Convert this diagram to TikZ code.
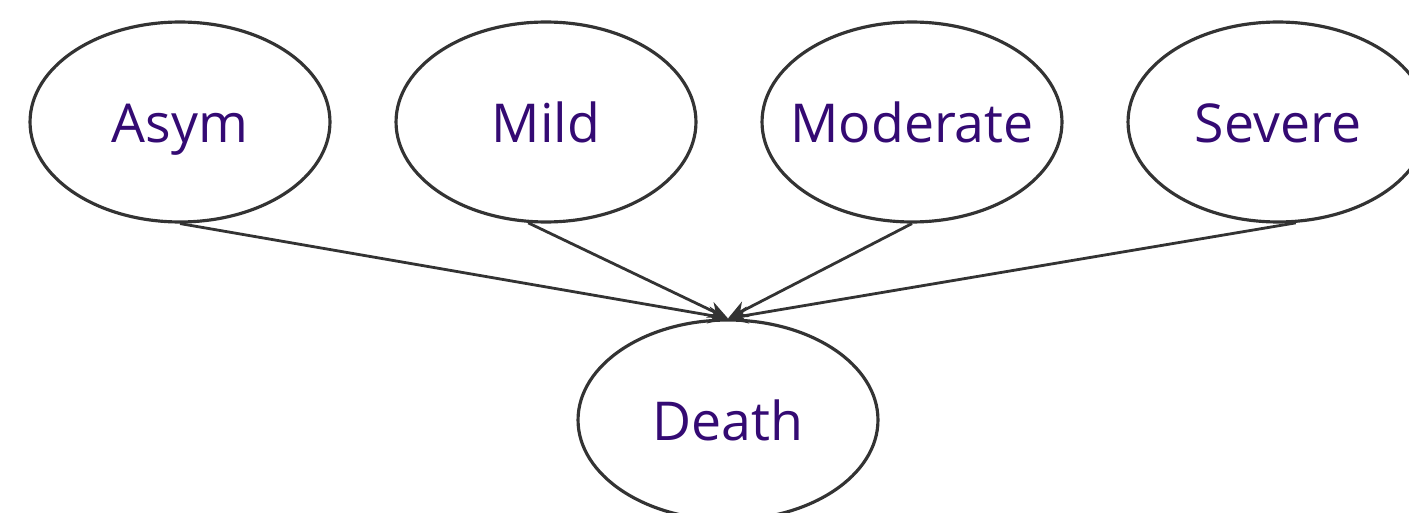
\documentclass[tikz,border=0pt]{standalone}
\usepackage{fontspec}
\setmainfont{Open Sans}
\usepackage{xcolor}
\usepackage{tikz}
\usetikzlibrary{arrows.meta,shapes.geometric}
\definecolor{stateInk}{HTML}{340A73}
\definecolor{edgeGray}{HTML}{333333}
\newcommand{\sname}[1]{\makebox[0pt]{#1}}
\tikzset{
  state/.style={draw=edgeGray, fill=white, line width=1.8pt, ellipse,
        minimum width=6cm, minimum height=4cm, inner sep=0pt,
        text height=1.1cm, text depth=0.26cm,
        text=stateInk, font=\fontsize{30.5}{36}\selectfont},
  flow/.style={-{Stealth[length=4mm, width=3.4mm]}, line width=1.6pt, draw=edgeGray}
}
\begin{document}
\begin{tikzpicture}[x=0.02cm, y=-0.02cm]
\useasboundingbox (0,0) rectangle (1409,513);
\clip (0,0) rectangle (1409,513);

\node[state] (asym) at (180,122)  {\sname{Asym}};
\node[state] (mild) at (546,122)  {\sname{Mild}};
\node[state] (mod)  at (912,122)  {\sname{Moderate}};
\node[state] (sev)  at (1278,122) {\sname{Severe}};
\node[state] (death) at (728,420) {\sname{Death}};

\draw[flow] (asym.south) -- (death.north);
\draw[flow] (mild.260) -- (death.north);
\draw[flow] (mod.south) -- (death.north);
\draw[flow] (sev.280) -- (death.north);
\end{tikzpicture}
\end{document}
